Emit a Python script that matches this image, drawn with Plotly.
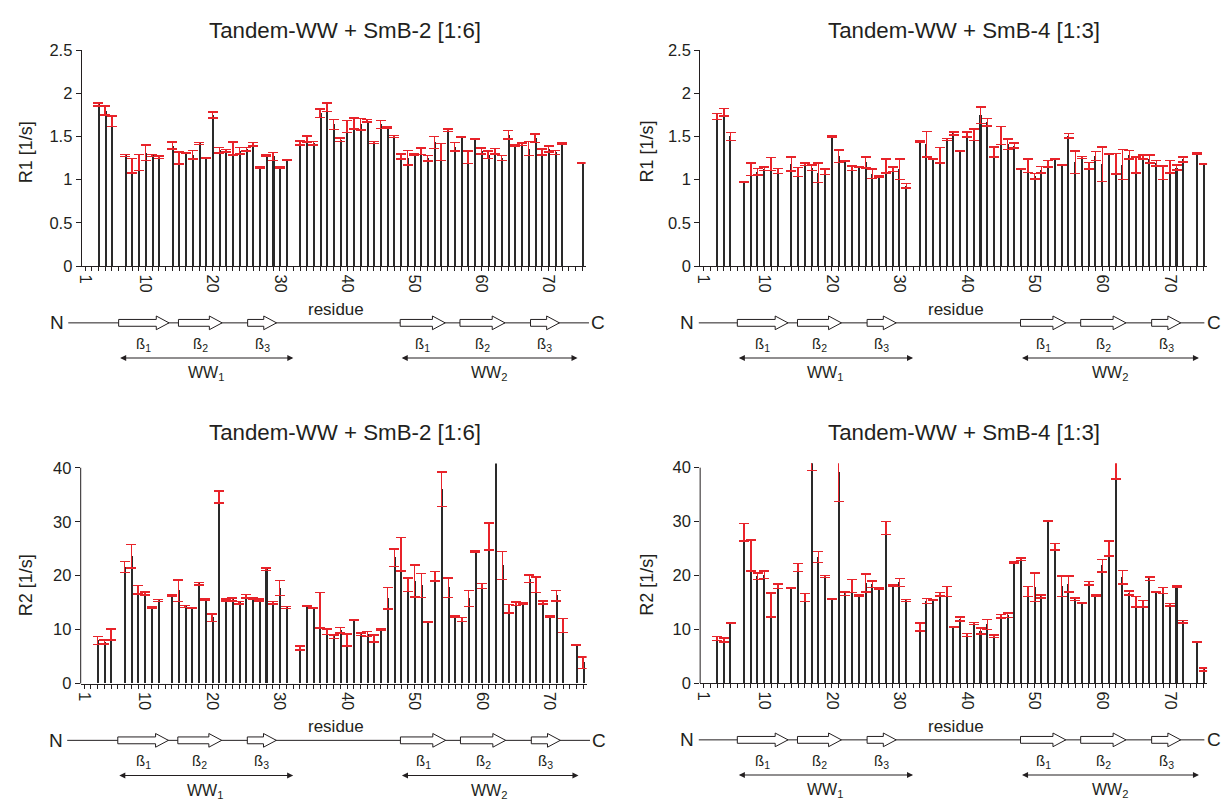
import plotly.graph_objects as go

W, H = 1224, 809
FONT = "Liberation Sans, Arial, Helvetica, sans-serif"
TXT = "#231f20"
BAR = "#2a2a2a"
ERR = "#e8232a"


def fx(p):
    return p / W


def fy(p):
    return 1 - p / H


residues = list(range(1, 76))

R1_SmB2 = [None, None, 1.87, 1.80, 1.675, None, 1.28, 1.16, 1.20, 1.31,
           1.28, 1.26, None, 1.395, 1.25, 1.31, 1.29, 1.42, 1.25, 1.75,
           1.34, 1.335, 1.36, 1.335, 1.35, 1.41, 1.14, 1.285, 1.27, 1.14,
           1.23, None, 1.425, 1.47, 1.42, 1.77, 1.84, 1.64, 1.46, 1.615,
           1.65, 1.64, 1.68, 1.43, 1.64, 1.605, 1.50, 1.27, 1.255, 1.29,
           1.33, 1.25, 1.43, 1.32, 1.57, 1.38, 1.495, 1.26, 1.47, 1.33,
           1.29, 1.33, 1.25, 1.52, 1.40, 1.41, 1.36, 1.48, 1.32, 1.355,
           1.315, 1.42, None, None, 1.195]
R1_SmB2_err = [None, None, .015, .05, .06, None, .012, .085, .094, .09,
               .01, .012, None, .04, .07, .005, .05, .01, .005, .035,
               .03, .015, .075, .035, .02, .02, .005, .008, .047, .006,
               .006, None, .025, .035, .02, .05, .05, .057, .02, .07,
               .063, .066, .014, .01, .047, .005, .01, .028, .085, .005,
               .038, .032, .07, .1, .015, .05, .005, .07, .005, .035,
               .045, .03, .03, .05, .008, .015, .08, .05, .035, .035,
               .025, .008, None, None, .003]

R1_SmB4 = [None, None, 1.73, 1.78, 1.50, None, 0.975, 1.12, 1.09, 1.125,
           1.18, 1.10, None, 1.18, 1.09, 1.18, 1.14, 1.08, 1.09, 1.50,
           1.27, 1.22, 1.13, 1.15, 1.20, 1.07, 1.04, 1.16, 1.12, 1.12,
           0.93, None, 1.44, 1.41, 1.24, 1.285, 1.465, 1.535, 1.33, 1.525,
           1.52, 1.745, 1.665, 1.32, 1.51, 1.41, 1.395, 1.123, 1.16, 1.04,
           1.115, 1.185, 1.24, 1.17, 1.51, 1.20, 1.258, 1.16, 1.275, 1.18,
           1.30, 1.185, 1.175, 1.29, 1.17, 1.265, 1.24, 1.19, 1.08, 1.15,
           1.14, 1.235, None, 1.30, 1.18]
R1_SmB4_err = [None, None, .035, .045, .047, None, .005, .073, .038, .02,
               .075, .028, None, .08, .053, .013, .032, .113, .032, .008,
               .072, .005, .026, .005, .065, .056, .008, .08, .025, .118,
               .028, None, .01, .15, .008, .09, .01, .016, .006, .028,
               .066, .094, .043, .057, .104, .062, .027, .005, .078, .034,
               .04, .04, .006, .005, .026, .13, .013, .038, .05, .2,
               .005, .117, .175, .05, .09, .023, .047, .032, .08, .07,
               .028, .028, None, .008, .003]

R2_SmB2 = [None, None, 8.0, 7.7, 9.1, None, 21.6, 23.6, 17.4, 16.7,
           14.1, 15.4, None, 16.3, 17.2, 14.3, 14.0, 18.5, 15.6, 12.2,
           34.6, 15.5, 15.6, 15.0, 16.2, 15.85, 15.5, 21.2, 15.0, 17.7,
           14.1, None, 6.6, 14.4, 14.0, 13.6, 9.6, 8.7, 9.9, 8.1,
           11.8, 9.15, 9.2, 8.4, 10.0, 15.85, 23.35, 24.0, 18.35, 19.0,
           18.2, 11.36, 19.9, 36.0, 17.8, 12.45, 11.9, 15.8, 24.5, 18.1,
           27.3, 46.0, 21.9, 13.9, 14.8, 14.85, 19.4, 18.35, 15.05, 12.4,
           16.3, 10.8, None, 7.25, 3.9]
R2_SmB2_err = [None, None, .7, .35, 1.0, None, 1.0, 2.2, .8, .25,
               .1, .15, None, .1, 2.0, .2, .1, .2, .1, .7,
               1.1, .2, .3, .2, .3, .15, .2, .2, .2, 1.4,
               .2, None, .35, .1, .1, 3.3, .5, .36, .5, 1.1,
               .1, .2, .45, .66, .1, 2.0, 1.6, 3.1, 1.27, 2.96,
               2.2, .05, .9, 3.2, 1.8, .1, .4, 1.5, .1, .45,
               2.5, 1.0, 2.6, .8, .3, .1, .7, 1.45, .25, .15,
               1.0, 1.3, None, .05, 1.05]

R2_SmB4 = [None, None, 8.3, 8.0, 11.15, None, 28.0, 23.7, 19.85, 20.1,
           14.5, 18.0, None, 17.6, 21.5, 15.9, 42.0, 23.4, 19.8, 15.6,
           39.2, 16.6, 18.0, 16.2, 18.6, 18.4, 17.6, 28.8, 18.1, 18.65,
           15.35, None, 10.45, 15.25, 15.4, 16.5, 17.0, 10.4, 11.9, 8.95,
           11.1, 9.7, 10.9, 8.7, 12.4, 12.6, 22.4, 23.0, 17.0, 17.8,
           16.1, 30.1, 25.3, 18.0, 18.4, 15.55, 14.8, 18.55, 16.3, 21.8,
           25.0, 39.5, 19.7, 16.75, 15.1, 14.7, 19.4, 16.9, 17.2, 14.55,
           18.0, 11.4, None, 7.6, 2.55]
R2_SmB4_err = [None, None, .36, .4, .1, None, 1.6, 2.9, .6, .7,
               2.2, .4, None, .05, .75, .7, 2.5, 1.0, .2, .05,
               5.5, .3, 1.2, .15, 1.7, .6, .1, 1.2, .1, .75,
               .15, None, .75, .5, .05, .3, .9, .1, .4, .3,
               .2, .57, .9, .25, .33, .42, .1, .27, .9, 2.66,
               .3, .05, .6, 1.9, 1.5, .25, .05, .35, .1, 1.2,
               1.4, 1.6, 1.25, .35, 1.0, .6, .3, .1, .6, .27,
               .15, .2, None, .05, .25]

titles = ["Tandem-WW + SmB-2 [1:6]", "Tandem-WW + SmB-4 [1:3]",
          "Tandem-WW + SmB-2 [1:6]", "Tandem-WW + SmB-4 [1:3]"]
y_titles = ["R1 [1/s]", "R1 [1/s]", "R2 [1/s]", "R2 [1/s]"]
R1_ticks = [0, 0.5, 1, 1.5, 2, 2.5]
R2_ticks = [0, 10, 20, 30, 40]
x_labelled = [1, 10, 20, 30, 40, 50, 60, 70]

# secondary structure (residue numbers)
strand_start = [6.0, 14.9, 25.2, 47.9, 56.8, 67.3]
strand_end = [13.5, 21.4, 29.5, 54.6, 63.5, 71.6]
strand_labels = ["ß<sub>1</sub>", "ß<sub>2</sub>", "ß<sub>3</sub>"] * 2
domain_start = [6.0, 47.9]
domain_end = [32.0, 74.3]
domain_labels = ["WW<sub>1</sub>", "WW<sub>2</sub>"]
terminal_labels = ["N", "C"]
terminal_pos_left = [-3.2, 77.4]
terminal_pos_right = [-1.4, 76.5]

values = [R1_SmB2, R1_SmB4, R2_SmB2, R2_SmB4]
errors = [R1_SmB2_err, R1_SmB4_err, R2_SmB2_err, R2_SmB4_err]

# panel geometry in window pixels
geom = [
    dict(left=77, right=583, base=263, unit=88.4, amax=2.5, rmax=2.5, ticks=R1_ticks,
         term=terminal_pos_left, title_y=22, title_x=341, ytitle_x=20.5, ytitle_y=146),
    dict(left=698, right=1207, base=263, unit=88.4, amax=2.5, rmax=2.5, ticks=R1_ticks,
         term=terminal_pos_right, title_y=22, title_x=963, ytitle_x=644.5, ytitle_y=146),
    dict(left=76, right=584, base=690, unit=5.52, amax=40, rmax=40.8, ticks=R2_ticks,
         term=terminal_pos_left, title_y=433, title_x=341, ytitle_x=20.5, ytitle_y=589),
    dict(left=698, right=1207, base=689.5, unit=5.51, amax=40, rmax=40.8, ticks=R2_ticks,
         term=terminal_pos_right, title_y=433, title_x=963, ytitle_x=644.5, ytitle_y=589),
]

fig = go.Figure()
layout = {}
annotations = []
shapes = []
DX0, DX1 = -7.0, 77.8      # diagram residue range
DY0, DY1 = 35, 118          # diagram pixel offsets below the zero line

for i, g in enumerate(geom):
    n = i + 1
    xa = "x" if n == 1 else f"x{n}"
    ya = "y" if n == 1 else f"y{n}"
    xk = "xaxis" if n == 1 else f"xaxis{n}"
    yk = "yaxis" if n == 1 else f"yaxis{n}"
    top = g["base"] - g["rmax"] * g["unit"]
    s = (g["right"] - g["left"]) / 75.0

    fig.add_trace(go.Bar(
        x=residues, y=values[i], width=0.3,
        marker=dict(color=BAR, line=dict(width=0)),
        error_y=dict(type="data", array=errors[i], symmetric=True,
                     color=ERR, thickness=1.5, width=5),
        xaxis=xa, yaxis=ya, showlegend=False, hoverinfo="skip"))

    layout[xk] = dict(
        domain=[fx(g["left"]), fx(g["right"])], anchor=ya, range=[0.5, 75.5],
        tickmode="array", tickvals=residues,
        ticktext=[str(r) if r in x_labelled else "" for r in residues],
        tickangle=90, ticks="outside", ticklen=4, tickwidth=1, tickcolor=TXT,
        showline=True, linecolor=TXT, linewidth=1, showgrid=False, zeroline=False,
        tickfont=dict(family=FONT, size=16.5, color=TXT), fixedrange=True)
    layout[yk] = dict(
        domain=[fy(g["base"]), fy(top)], anchor=xa, range=[0, g["rmax"]],
        tickmode="array", tickvals=g["ticks"], ticks="outside", ticklen=5,
        tickwidth=1, tickcolor=TXT, showline=(g["rmax"] == g["amax"]),
        linecolor=TXT, linewidth=1, showgrid=False, zeroline=False,
        tickfont=dict(family=FONT, size=16.5, color=TXT), fixedrange=True)
    if g["rmax"] != g["amax"]:
        shapes.append(dict(type="line", xref=f"{xa} domain", x0=0, x1=0,
                           yref=ya, y0=0, y1=g["amax"],
                           line=dict(color=TXT, width=1)))

    # title and y-axis title
    annotations.append(dict(text=titles[i], xref="paper", yref="paper",
                            x=fx(g["title_x"]), y=fy(g["title_y"]),
                            showarrow=False, xanchor="center", yanchor="middle",
                            font=dict(family=FONT, size=22.3, color=TXT)))
    annotations.append(dict(text=y_titles[i], xref="paper", yref="paper",
                            x=fx(g["ytitle_x"]), y=fy(g["ytitle_y"]),
                            textangle=-90, showarrow=False,
                            xanchor="center", yanchor="middle",
                            font=dict(family=FONT, size=18, color=TXT)))

    # secondary structure diagram on its own invisible axes
    m = n + 4
    dxa, dya = f"x{m}", f"y{m}"
    layout[f"xaxis{m}"] = dict(
        domain=[fx(g["left"] + (DX0 - 0.5) * s), fx(g["left"] + (DX1 - 0.5) * s)],
        range=[DX0, DX1], anchor=dya, visible=False, fixedrange=True)
    layout[f"yaxis{m}"] = dict(
        domain=[fy(g["base"] + DY1), fy(g["base"] + DY0)],
        range=[DY1, DY0], anchor=dxa, visible=False, fixedrange=True)

    term = g["term"]
    fig.add_trace(go.Scatter(
        x=[term[0] + 1.7, term[1] - 1.4], y=[58, 58], mode="lines",
        line=dict(color=TXT, width=1), xaxis=dxa, yaxis=dya,
        showlegend=False, hoverinfo="skip"))

    for a, b in zip(strand_start, strand_end):
        hb = b - 1.9
        path = (f"M{a},{58-3.5} L{hb},{58-3.5} L{hb},{58-7} L{b},58 "
                f"L{hb},{58+7} L{hb},{58+3.5} L{a},{58+3.5} Z")
        shapes.append(dict(type="path", xref=dxa, yref=dya, path=path,
                           fillcolor="white", line=dict(color=TXT, width=1)))
    for a, b, lab in zip(strand_start, strand_end, strand_labels):
        annotations.append(dict(text=lab, xref=dxa, yref=dya, x=(a + b) / 2, y=80,
                                showarrow=False, font=dict(family=FONT, size=15, color=TXT)))
    for a, b, lab in zip(domain_start, domain_end, domain_labels):
        annotations.append(dict(text="", xref=dxa, yref=dya, x=b, y=94,
                                ax=a, ay=94, axref=dxa, ayref=dya, showarrow=True,
                                arrowside="end+start", arrowhead=2, arrowsize=1.1,
                                arrowwidth=1.1, arrowcolor=TXT, standoff=0, startstandoff=0))
        annotations.append(dict(text=lab, xref=dxa, yref=dya, x=(a + b) / 2, y=110,
                                showarrow=False, font=dict(family=FONT, size=16, color=TXT)))
    for pos, lab in zip(term, terminal_labels):
        annotations.append(dict(text=lab, xref=dxa, yref=dya, x=pos, y=58,
                                showarrow=False, font=dict(family=FONT, size=19, color=TXT)))
    annotations.append(dict(text="residue", xref=dxa, yref=dya, x=38.3, y=44,
                            showarrow=False, font=dict(family=FONT, size=17, color=TXT)))

fig.update_layout(
    width=W, height=H, margin=dict(l=0, r=0, t=0, b=0),
    paper_bgcolor="white", plot_bgcolor="rgba(0,0,0,0)",
    font=dict(family=FONT, color=TXT), bargap=0,
    annotations=annotations, shapes=shapes, showlegend=False, **layout)

fig.write_html(
    "out.html",
    config={"displayModeBar": False},
    post_script=("document.documentElement.style.margin='0';"
                 "document.documentElement.style.overflow='hidden';"
                 "document.body.style.margin='0';"
                 "document.body.style.overflow='hidden';"))
